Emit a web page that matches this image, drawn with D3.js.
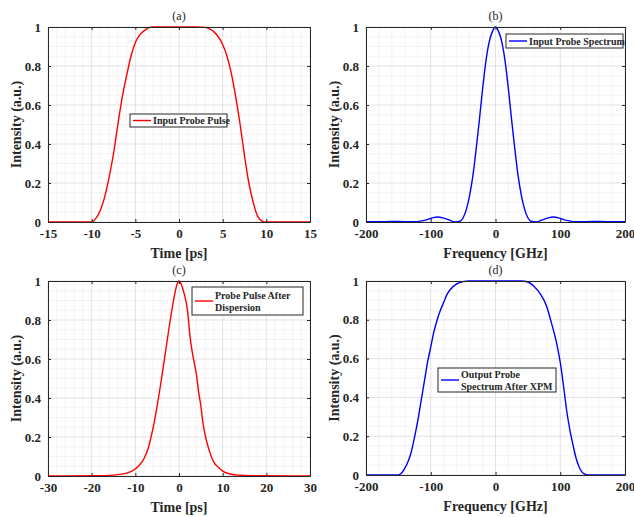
<!DOCTYPE html>
<html>
<head>
<meta charset="utf-8">
<script src="https://cdn.jsdelivr.net/npm/d3@7"></script>
<style>
    body { margin: 0; background: #fff; }
    svg { display: block; }
    svg text { font-family: "Liberation Serif", "Times New Roman", "DejaVu Serif", serif !important; fill: #262626; }
</style>
</head>
<body>
<svg id="chart" width="634" height="517"></svg>
<script>
// (a) input probe pulse
const timeA = [-15, -10, -9.5, -9, -8.5, -8, -7.5, -7, -6.5, -6, -5.5, -5, -4.5, -4, -3.5, -3, -2, 0, 2, 3, 3.5, 4, 4.5, 5, 5.5, 6, 6.5, 7, 7.5, 8, 8.5, 9, 9.5, 10, 15];
const pulseA = [0, 0, 0.02, 0.06, 0.13, 0.23, 0.35, 0.5, 0.64, 0.75, 0.85, 0.92, 0.96, 0.98, 0.995, 1, 1, 1, 1, 0.998, 0.99, 0.975, 0.95, 0.91, 0.85, 0.76, 0.64, 0.5, 0.34, 0.2, 0.1, 0.03, 0.005, 0, 0];

// (b) input probe spectrum
const freqB = [-200, -170, -150, -130, -120, -110, -100, -90, -80, -70, -62, -55, -50, -45, -40, -35, -30, -25, -20, -15, -10, -5, 0,
    5, 10, 15, 20, 25, 30, 35, 40, 45, 50, 55, 63, 70, 80, 90, 100, 110, 120, 130, 150, 170, 200];
const spectrumB = [0.001, 0.002, 0.003, 0.001, 0.002, 0.008, 0.018, 0.026, 0.02, 0.008, 0, 0.004, 0.022, 0.065, 0.135, 0.235, 0.37, 0.52, 0.68, 0.82, 0.92, 0.975, 1,
    0.975, 0.92, 0.82, 0.68, 0.52, 0.37, 0.235, 0.135, 0.065, 0.022, 0.004, 0, 0.008, 0.02, 0.026, 0.018, 0.008, 0.002, 0.001, 0.003, 0.002, 0.001];

// (c) probe pulse after dispersion
const timeC = [-30, -20, -16, -14, -12, -10, -9, -8, -7, -6, -5, -4, -3, -2, -1, -0.5, 0, 0.5, 1, 2, 2.5, 3, 3.5, 4, 4.5, 5, 5.5, 6, 7, 8, 9, 10, 12, 14, 16, 20, 30];
const pulseC = [0, 0.001, 0.003, 0.007, 0.015, 0.036, 0.058, 0.09, 0.146, 0.24, 0.36, 0.5, 0.65, 0.8, 0.93, 0.98, 1, 0.985, 0.95, 0.84, 0.72, 0.64, 0.58, 0.52, 0.43, 0.36, 0.27, 0.21, 0.125, 0.07, 0.045, 0.025, 0.009, 0.004, 0.002, 0.001, 0];

// (d) output probe spectrum after XPM
const freqD = [-200, -150, -145, -140, -135, -130, -125, -120, -115, -110, -105, -100, -95, -90, -85, -80, -75, -70, -60, -50, -40, 0,
    40, 50, 60, 70, 75, 80, 85, 90, 95, 100, 105, 110, 115, 120, 125, 130, 135, 140, 145, 200];
const spectrumD = [0, 0, 0.01, 0.035, 0.07, 0.12, 0.195, 0.28, 0.38, 0.48, 0.58, 0.66, 0.74, 0.8, 0.85, 0.89, 0.93, 0.955, 0.985, 0.997, 1, 1,
    1, 0.995, 0.97, 0.93, 0.9, 0.86, 0.8, 0.74, 0.67, 0.58, 0.46, 0.33, 0.23, 0.15, 0.08, 0.035, 0.01, 0.002, 0, 0];

const intensityTicks = [0, 0.2, 0.4, 0.6, 0.8, 1];
const timeTicksA = [-15, -10, -5, 0, 5, 10, 15];
const freqTicks = [-200, -100, 0, 100, 200];
const timeTicksC = [-30, -20, -10, 0, 10, 20, 30];

const panels = [
    { title: "(a)", x: timeA, y: pulseA, xTicks: timeTicksA, xMinor: 1, xLabel: "Time [ps]", color: "#ff0000",
      box: [48, 27, 310, 222], legend: ["Input Probe Pulse"], legendBox: [130, 114, 97, 13] },
    { title: "(b)", x: freqB, y: spectrumB, xTicks: freqTicks, xMinor: 20, xLabel: "Frequency [GHz]", color: "#0000ff",
      box: [366, 27, 625, 222], legend: ["Input Probe Spectrum"], legendBox: [506, 34, 117, 14] },
    { title: "(c)", x: timeC, y: pulseC, xTicks: timeTicksC, xMinor: 2, xLabel: "Time [ps]", color: "#ff0000",
      box: [48, 281, 310, 476], legend: ["Probe Pulse After", "Dispersion"], legendBox: [192, 287, 111, 28] },
    { title: "(d)", x: freqD, y: spectrumD, xTicks: freqTicks, xMinor: 20, xLabel: "Frequency [GHz]", color: "#0000ff",
      box: [366, 281, 625, 475], legend: ["Output Probe", "Spectrum After XPM"], legendBox: [438, 368, 118, 24] }
];

const serif = "'Liberation Serif', 'Times New Roman', 'DejaVu Serif', serif";
const svg = d3.select("#chart");

function drawPanel(p) {
    const [x0, y0, x1, y1] = p.box;
    const xDomain = d3.extent(p.xTicks);
    const x = d3.scaleLinear().domain(xDomain).range([x0, x1]);
    const y = d3.scaleLinear().domain([0, 1]).range([y1, y0]);
    const g = svg.append("g");

    // Minor grid
    const xMinor = d3.range(xDomain[0], xDomain[1] + 1e-9, p.xMinor).filter(v => !p.xTicks.includes(v));
    const yMinor = d3.range(0, 1.0001, 0.05).filter(v => Math.abs(v * 5 - Math.round(v * 5)) > 1e-6);
    g.append("g").selectAll("line").data(xMinor).join("line")
        .attr("x1", d => x(d)).attr("x2", d => x(d)).attr("y1", y0).attr("y2", y1)
        .attr("stroke", "#ececec").attr("stroke-width", 0.6);
    g.append("g").selectAll("line").data(yMinor).join("line")
        .attr("y1", d => y(d)).attr("y2", d => y(d)).attr("x1", x0).attr("x2", x1)
        .attr("stroke", "#ececec").attr("stroke-width", 0.6);

    // Major grid
    g.append("g").selectAll("line").data(p.xTicks).join("line")
        .attr("x1", d => x(d)).attr("x2", d => x(d)).attr("y1", y0).attr("y2", y1)
        .attr("stroke", "#dadada").attr("stroke-width", 0.8);
    g.append("g").selectAll("line").data(intensityTicks).join("line")
        .attr("y1", d => y(d)).attr("y2", d => y(d)).attr("x1", x0).attr("x2", x1)
        .attr("stroke", "#dadada").attr("stroke-width", 0.8);

    // Curve
    const line = d3.line()
        .x((d, i) => x(p.x[i]))
        .y(d => y(d))
        .curve(d3.curveMonotoneX);
    g.append("path")
        .attr("d", line(p.y))
        .attr("fill", "none")
        .attr("stroke", p.color)
        .attr("stroke-width", 1.4);

    // Axes with inward ticks, box on
    const fmt = d => String(d);
    const axisStyle = a => {
        a.attr("font-family", serif);
        a.select(".domain").attr("stroke", "#262626").attr("stroke-width", 1);
        a.selectAll(".tick line").attr("stroke", "#262626");
        a.selectAll(".tick text")
            .style("font-family", serif)
            .attr("font-weight", "bold").attr("font-size", 13).attr("fill", "#262626");
    };
    g.append("g").attr("transform", `translate(0,${y1})`)
        .call(d3.axisBottom(x).tickValues(p.xTicks).tickFormat(fmt).tickSizeInner(-3).tickSizeOuter(0).tickPadding(7))
        .call(axisStyle);
    g.append("g").attr("transform", `translate(0,${y0})`)
        .call(d3.axisTop(x).tickValues(p.xTicks).tickFormat("").tickSizeInner(-3).tickSizeOuter(0))
        .call(axisStyle);
    g.append("g").attr("transform", `translate(${x0},0)`)
        .call(d3.axisLeft(y).tickValues(intensityTicks).tickFormat(fmt).tickSizeInner(-3).tickSizeOuter(0).tickPadding(7))
        .call(axisStyle);
    g.append("g").attr("transform", `translate(${x1},0)`)
        .call(d3.axisRight(y).tickValues(intensityTicks).tickFormat("").tickSizeInner(-3).tickSizeOuter(0))
        .call(axisStyle);

    // Labels
    g.append("text")
        .attr("x", (x0 + x1) / 2).attr("y", y1 + 36)
        .style("font-family", serif)
        .attr("text-anchor", "middle").attr("font-weight", "bold").attr("font-size", 14)
        .text(p.xLabel);
    g.append("text")
        .attr("transform", `translate(${x0 - 27},${(y0 + y1) / 2}) rotate(-90)`)
        .style("font-family", serif)
        .attr("text-anchor", "middle").attr("font-weight", "bold").attr("font-size", 14)
        .text("Intensity (a.u.)");
    g.append("text")
        .attr("x", (x0 + x1) / 2).attr("y", y0 - 7)
        .style("font-family", serif)
        .attr("text-anchor", "middle").attr("font-size", 12)
        .text(p.title);

    // Legend
    const [lx, ly, lw, lh] = p.legendBox;
    const lg = g.append("g");
    lg.append("rect")
        .attr("x", lx).attr("y", ly).attr("width", lw).attr("height", lh)
        .attr("fill", "#fff").attr("stroke", "#262626").attr("stroke-width", 1);
    const midY = ly + lh / 2;
    lg.append("line")
        .attr("x1", lx + 3).attr("x2", lx + 21).attr("y1", midY).attr("y2", midY)
        .attr("stroke", p.color).attr("stroke-width", 1.4);
    const rows = p.legend.length;
    p.legend.forEach((t, i) => {
        lg.append("text")
            .attr("x", lx + 23)
            .attr("y", midY + (i - (rows - 1) / 2) * 12 + 3.5)
            .style("font-family", serif)
            .attr("font-weight", "bold").attr("font-size", 10)
            .text(t);
    });
}

panels.forEach(drawPanel);
</script>
</body>
</html>
